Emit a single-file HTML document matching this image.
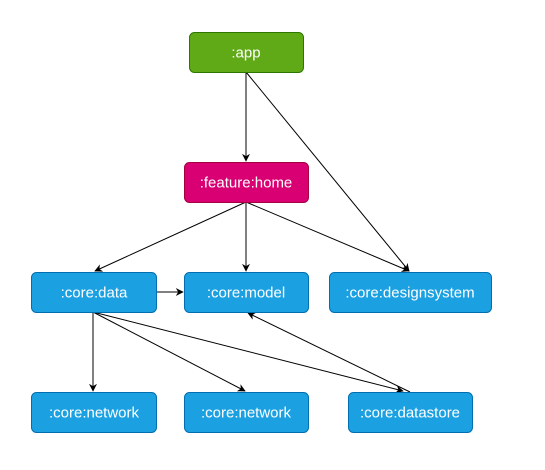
<!DOCTYPE html><html><head><style>body{margin:0;background:#fff}</style></head><body>
<svg width="545" height="465" xmlns="http://www.w3.org/2000/svg" font-family="Liberation Sans, sans-serif" font-size="15">
<defs><marker id="a" viewBox="0 0 10 10" refX="9" refY="5" markerWidth="8" markerHeight="8" markerUnits="userSpaceOnUse" orient="auto"><path d="M0,0L10,5L0,10L3,5z" fill="#000"/></marker></defs>
<g stroke="#000" stroke-width="1" fill="none" marker-end="url(#a)">
<line x1="246" y1="72" x2="246" y2="161"/>
<line x1="246" y1="72" x2="409" y2="271"/>
<line x1="246" y1="202" x2="95" y2="271"/>
<line x1="246" y1="202" x2="246" y2="271"/>
<line x1="246" y1="202" x2="409" y2="271"/>
<line x1="156" y1="292" x2="183" y2="292"/>
<line x1="93" y1="312" x2="93" y2="391"/>
<line x1="93" y1="312" x2="245" y2="391"/>
<line x1="93" y1="312" x2="403" y2="391"/>
<line x1="410" y1="392" x2="248" y2="313"/>
</g>
<g text-anchor="middle" fill="#fff">
<rect x="189.5" y="32.5" width="114" height="40" rx="5" fill="#60a917" stroke="#2d7600"/><text x="246" y="57.5">:app</text>
<rect x="184.5" y="162.5" width="124" height="40" rx="5" fill="#d80073" stroke="#a50040"/><text x="246" y="187.5">:feature:home</text>
<rect x="31.5" y="272.5" width="125" height="40" rx="5" fill="#1ba1e2" stroke="#006eaf"/><text x="94" y="297.5">:core:data</text>
<rect x="184.5" y="272.5" width="124" height="40" rx="5" fill="#1ba1e2" stroke="#006eaf"/><text x="246" y="297.5">:core:model</text>
<rect x="329.5" y="272.5" width="162" height="40" rx="5" fill="#1ba1e2" stroke="#006eaf"/><text x="410" y="297.5">:core:designsystem</text>
<rect x="31.5" y="392.5" width="125" height="40" rx="5" fill="#1ba1e2" stroke="#006eaf"/><text x="94" y="417.5">:core:network</text>
<rect x="184.5" y="392.5" width="124" height="40" rx="5" fill="#1ba1e2" stroke="#006eaf"/><text x="246" y="417.5">:core:network</text>
<rect x="348.5" y="392.5" width="124" height="40" rx="5" fill="#1ba1e2" stroke="#006eaf"/><text x="410" y="417.5">:core:datastore</text>
</g></svg></body></html>
